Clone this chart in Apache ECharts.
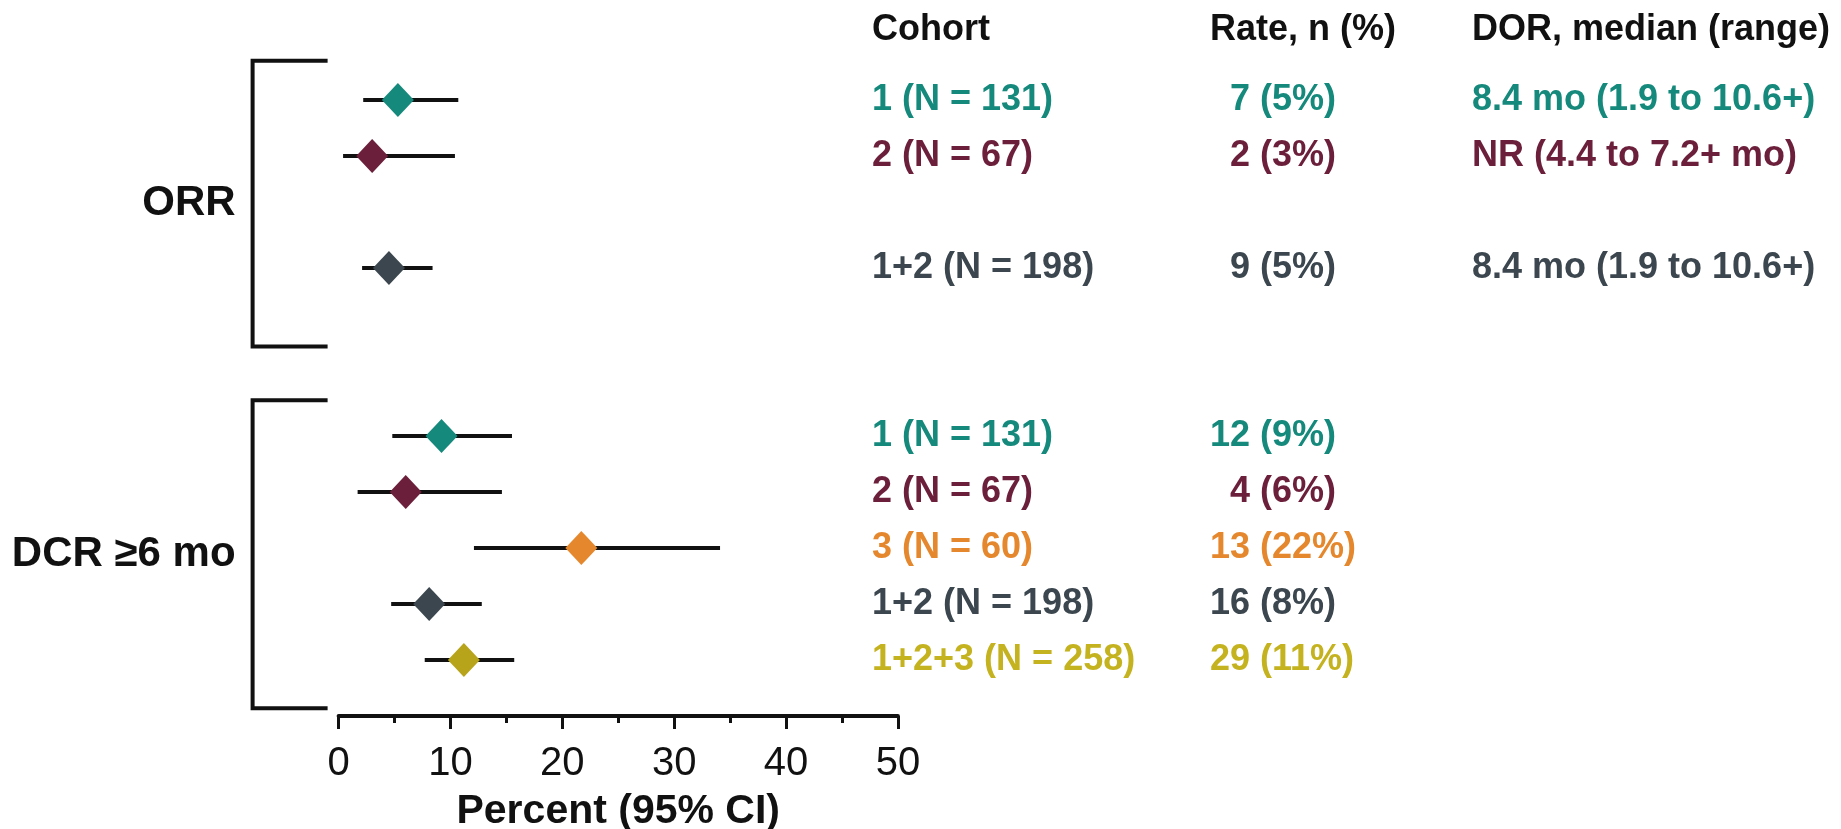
<!DOCTYPE html>
<html>
<head>
<meta charset="utf-8">
<title>Forest plot - ORR / DCR</title>
<script src="https://cdn.jsdelivr.net/npm/echarts@6/dist/echarts.min.js"></script>
<style>
  html, body { margin: 0; padding: 0; background: #fff; }
  #chart { width: 1841px; height: 829px; }
</style>
</head>
<body>
<div id="chart"></div>
<script>
// data
const cohortLabels = ['1 (N = 131)', '2 (N = 67)', '1+2 (N = 198)',
  '1 (N = 131)', '2 (N = 67)', '3 (N = 60)', '1+2 (N = 198)', '1+2+3 (N = 258)']
const rowPos = [0, 1, 3, 6, 7, 8, 9, 10]          // row slot on the y scale
const pointEst = [5.3, 3.0, 4.5, 9.2, 6.0, 21.7, 8.1, 11.2]
const ciLow = [2.2, 0.4, 2.1, 4.8, 1.7, 12.1, 4.7, 7.7]
const ciHigh = [10.7, 10.4, 8.4, 15.5, 14.6, 34.1, 12.8, 15.7]
const rateN = [7, 2, 9, 12, 4, 13, 16, 29]
const ratePct = [5, 3, 5, 9, 6, 22, 8, 11]
const dorText = ['8.4 mo (1.9 to 10.6+)', 'NR (4.4 to 7.2+ mo)', '8.4 mo (1.9 to 10.6+)', '', '', '', '', '']
const cohortKey = ['c1', 'c2', 'c12', 'c1', 'c2', 'c3', 'c12', 'c123']

const groupNames = ['ORR', 'DCR \u22656 mo']
const groupTop = [-0.7, 5.36]
const groupBottom = [4.4, 10.86]

const headers = ['Cohort', 'Rate, n (%)', 'DOR, median (range)']
const headerRow = -1.25
const xTicks = { min: 0, max: 50, interval: 10 }

// styles
const palette = {
  c1: '#15897b',
  c2: '#6b1f3a',
  c3: '#e5872d',
  c12: '#3b464e',
  c123: '#b7a41b'
}
const textPalette = { ...palette, c123: '#c4b21f' }
const FONT = '"Liberation Sans", Arial, Helvetica, sans-serif'
const colX = [872, 1210, 1472]   // table column left edges (px)

const chart = echarts.init(document.getElementById('chart'))

const yAxisBase = {
  type: 'value',
  inverse: true,
  min: headerRow,
  max: 11,
  show: false
}

const option = {
  animation: false,
  grid: [
    { left: 338.6, right: 1841 - 897.9, top: 30, height: 686, outerBoundsMode: 'none', containLabel: false },
    { left: 0, right: 0, top: 30, height: 686, outerBoundsMode: 'none', containLabel: false }
  ],
  xAxis: [
    {
      type: 'value',
      gridIndex: 0,
      min: xTicks.min,
      max: xTicks.max,
      interval: xTicks.interval,
      splitLine: { show: false },
      axisLine: { show: true, onZero: false, lineStyle: { color: '#111', width: 4 } },
      axisTick: { show: true, length: 13, lineStyle: { color: '#111', width: 3 } },
      minorTick: { show: true, splitNumber: 2, length: 7, lineStyle: { color: '#111', width: 3 } },
      axisLabel: { fontSize: 40, color: '#111', fontFamily: FONT, margin: 28 },
      name: 'Percent (95% CI)',
      nameLocation: 'middle',
      nameGap: 75,
      nameTextStyle: { fontSize: 41, fontWeight: 'bold', color: '#111', fontFamily: FONT }
    },
    { type: 'value', gridIndex: 1, min: 0, max: 1841, show: false }
  ],
  yAxis: [
    { ...yAxisBase, gridIndex: 0 },
    { ...yAxisBase, gridIndex: 1 }
  ],
  series: [
    // group brackets + labels
    {
      type: 'custom',
      xAxisIndex: 0,
      yAxisIndex: 0,
      clip: false,
      encode: { x: 0, y: [1, 2] },
      data: groupNames.map((g, i) => [0, groupTop[i], groupBottom[i], i]),
      renderItem: (params, api) => {
        const t = api.coord([0, api.value(1)])
        const b = api.coord([0, api.value(2)])
        const vx = t[0] - 86
        const ex = t[0] - 11
        return {
          type: 'group',
          children: [
            {
              type: 'polyline',
              shape: { points: [[ex, t[1]], [vx, t[1]], [vx, b[1]], [ex, b[1]]] },
              style: { stroke: '#111', lineWidth: 4, fill: null }
            },
            {
              type: 'text',
              x: vx - 17,
              y: (t[1] + b[1]) / 2,
              style: {
                text: groupNames[api.value(3)],
                fill: '#111',
                fontSize: 42,
                fontWeight: 'bold',
                fontFamily: FONT,
                align: 'right',
                verticalAlign: 'middle'
              }
            }
          ]
        }
      }
    },
    // 95% CI whiskers
    {
      type: 'custom',
      xAxisIndex: 0,
      yAxisIndex: 0,
      encode: { x: [0, 1], y: 2 },
      data: rowPos.map((r, i) => [ciLow[i], ciHigh[i], r]),
      renderItem: (params, api) => {
        const p1 = api.coord([api.value(0), api.value(2)])
        const p2 = api.coord([api.value(1), api.value(2)])
        return {
          type: 'line',
          shape: { x1: p1[0], y1: p1[1], x2: p2[0], y2: p2[1] },
          style: { stroke: '#111', lineWidth: 4 }
        }
      }
    },
    // point estimates
    {
      type: 'scatter',
      xAxisIndex: 0,
      yAxisIndex: 0,
      symbol: 'diamond',
      symbolSize: [32, 34],
      z: 5,
      data: rowPos.map((r, i) => ({
        value: [pointEst[i], r],
        itemStyle: { color: palette[cohortKey[i]], opacity: 1 }
      }))
    },
    // table header
    {
      type: 'custom',
      xAxisIndex: 1,
      yAxisIndex: 1,
      clip: false,
      data: headers.map((h, i) => [colX[i], headerRow, i]),
      renderItem: (params, api) => {
        const p = api.coord([api.value(0), api.value(1)])
        return {
          type: 'text',
          x: p[0],
          y: p[1],
          style: {
            text: headers[api.value(2)],
            fill: '#111',
            fontSize: 36,
            fontWeight: 'bold',
            fontFamily: FONT,
            align: 'left',
            verticalAlign: 'middle'
          }
        }
      }
    },
    // table rows
    {
      type: 'custom',
      xAxisIndex: 1,
      yAxisIndex: 1,
      clip: false,
      data: rowPos.map((r, i) => [colX[0], r, i]),
      renderItem: (params, api) => {
        const i = api.value(2)
        const y = api.coord([0, api.value(1)])[1]
        const fill = textPalette[cohortKey[i]]
        const rate = (rateN[i] < 10 ? '  ' : '') + rateN[i] + ' (' + ratePct[i] + '%)'
        const cells = [cohortLabels[i], rate, dorText[i]]
        return {
          type: 'group',
          children: cells.map((txt, c) => ({
            type: 'text',
            x: api.coord([colX[c], 0])[0],
            y: y,
            style: {
              text: txt,
              fill: fill,
              fontSize: 36,
              fontWeight: 'bold',
              fontFamily: FONT,
              align: 'left',
              verticalAlign: 'middle'
            }
          }))
        }
      }
    }
  ]
}

chart.setOption(option)
</script>
</body>
</html>
